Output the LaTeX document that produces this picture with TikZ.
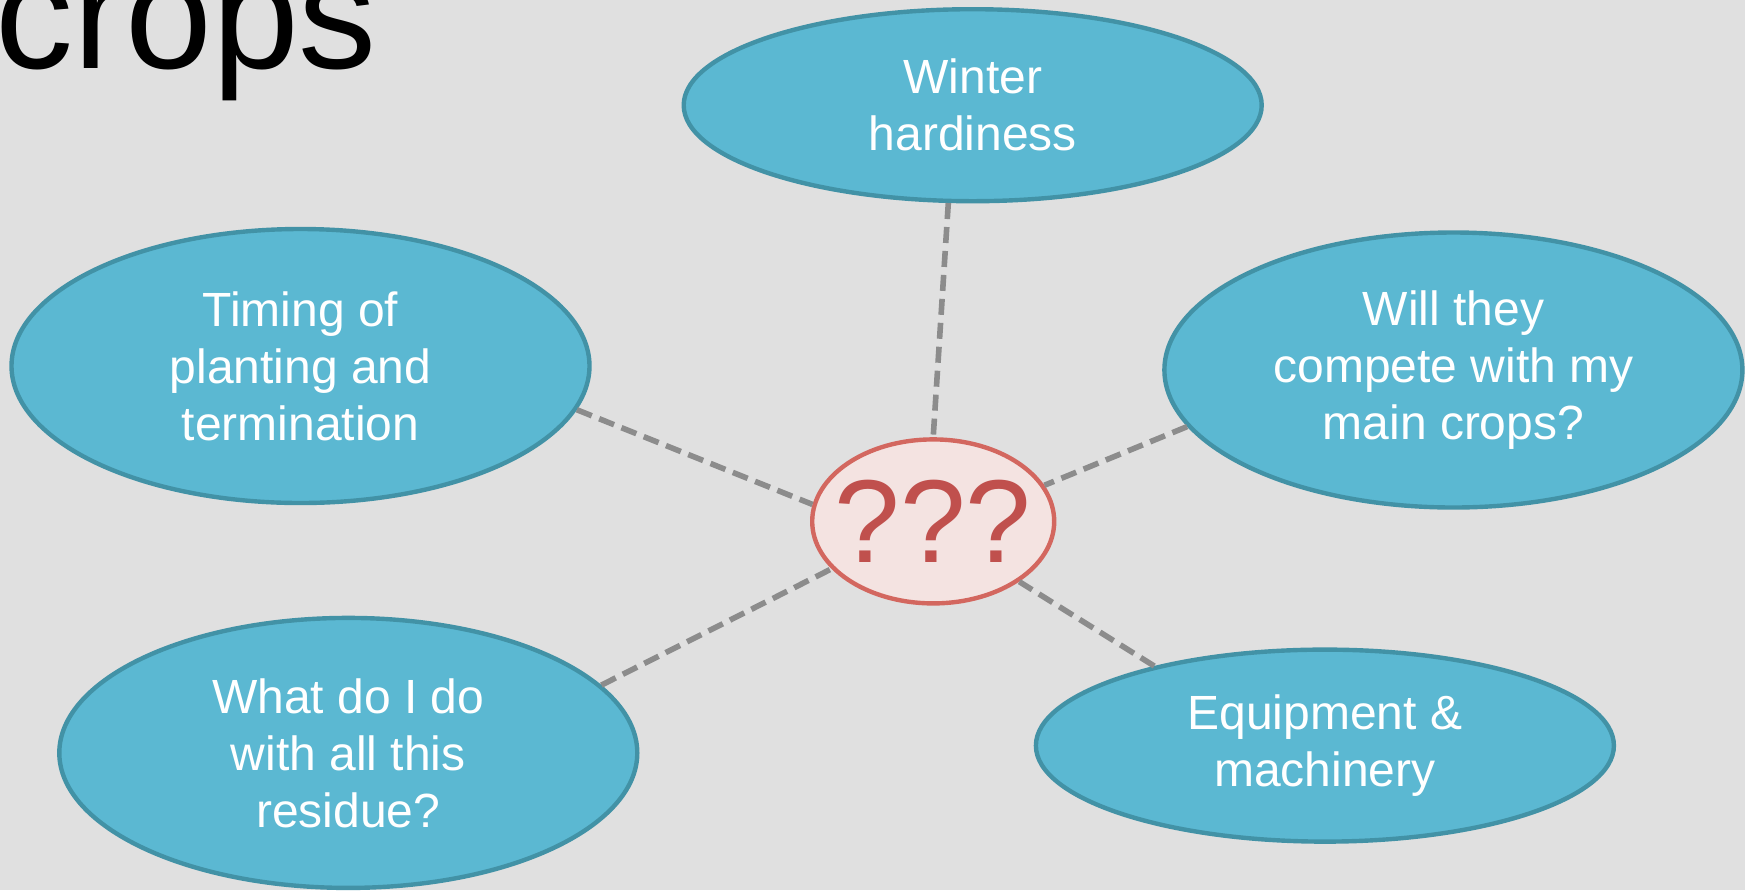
\documentclass[tikz,border=0pt]{standalone}
\usepackage{fontspec}
\setmainfont{Liberation Sans}
\usetikzlibrary{shapes.geometric}
\definecolor{bgc}{HTML}{E0E0E0}
\definecolor{bluefill}{HTML}{5BB8D2}
\definecolor{blueline}{HTML}{4292A6}
\definecolor{qfill}{HTML}{F4E3E1}
\definecolor{qline}{HTML}{D3675F}
\definecolor{qtext}{HTML}{C0504D}
\definecolor{dashc}{HTML}{8C8C8C}
\tikzset{
  topic/.style={ellipse, draw=blueline, fill=bluefill, line width=2.2pt, text=white,
    align=center, font=\fontsize{24}{28.5}\selectfont, inner sep=0pt},
  qnode/.style={ellipse, draw=qline, fill=qfill, line width=2.2pt, text=qtext,
    font=\fontsize{59}{60}\selectfont, minimum width=121pt, minimum height=82pt,
    inner xsep=-8pt, inner ysep=0pt},
  link/.style={draw=dashc, line width=2.8pt, dash pattern=on 8pt off 4pt}
}
\begin{document}
\begin{tikzpicture}[x=0.5pt,y=-0.5pt]
\useasboundingbox (0,0) rectangle (1745,890);
\clip (0,0) rectangle (1745,890);
\fill[bgc] (0,0) rectangle (1745,890);
\node[anchor=base west, font=\fontsize{78}{82}\selectfont, inner sep=0pt] (title) at (-5,68) {crops};
\node[topic, minimum width=289pt, minimum height=96pt] (winter) at (972.7,105.2) {Winter\\hardiness};
\node[topic, minimum width=289pt, minimum height=137pt] (timing) at (300.5,366) {Timing of\\planting and\\termination};
\node[topic, minimum width=289pt, minimum height=137.5pt] (compete) at (1453.4,370) {Will they\\compete with my\\main crops?};
\node[topic, minimum width=289pt, minimum height=135pt] (residue) at (348.3,752.9) {What do I do\\with all this\\residue?};
\node[topic, minimum width=289pt, minimum height=96pt] (equip) at (1324.9,745.6) {Equipment \&\\machinery};
\node[qnode] (q) at (933.2,521.4) {???};
\draw[link] (winter.-104) -- (q.90);
\draw[link] (timing.-9.3) -- (q.172.9);
\draw[link] (compete.-168.5) -- (q.18);
\draw[link] (residue.15.7) -- (q.205.2);
\draw[link] (equip.155.4) -- (q.-35.8);
\end{tikzpicture}
\end{document}
